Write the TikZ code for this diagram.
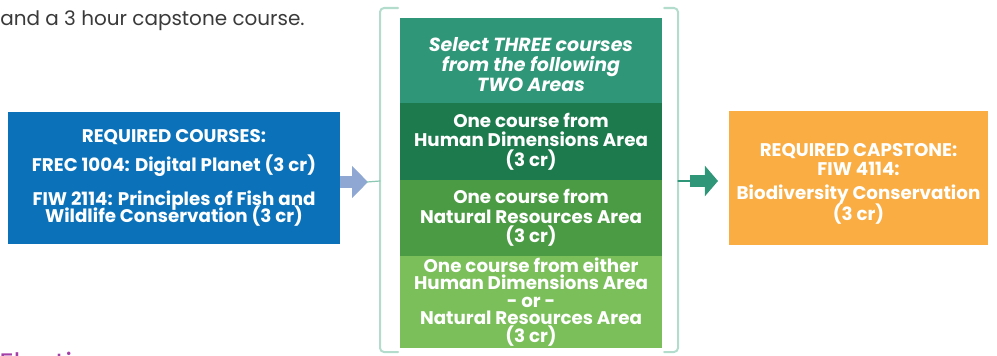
\documentclass[tikz,border=0pt]{standalone}
\usepackage{fontspec}
\setmainfont{Poppins}
\usetikzlibrary{arrows.meta}

\definecolor{bleuReq}{HTML}{0B72BA}
\definecolor{flecheBleue}{HTML}{8EA7D3}
\definecolor{vertSelect}{HTML}{2F9677}
\definecolor{vertHumain}{HTML}{1C7A4C}
\definecolor{vertNature}{HTML}{4B9B44}
\definecolor{vertClair}{HTML}{7BBF5A}
\definecolor{orangeCap}{HTML}{F9AD43}
\definecolor{accolade}{HTML}{B3DCCD}
\definecolor{texteGris}{HTML}{3A3A3A}
\definecolor{violet}{HTML}{A53FA8}

% interligne fixe, corps et interligne en arguments
\newcommand{\serre}{\lineskiplimit=-20pt\relax}
\newcommand{\txtboite}[2]{\fontsize{#1}{#2}\selectfont\serre\bfseries}

\tikzset{
  boite/.style={fill=#1, text=white, align=center, inner sep=0pt, font=\txtboite{13}{13.9}},
  colonne/.style={boite=#1, minimum width=6.55cm},
  texteBlanc/.style={text=white, align=center, inner sep=0pt},
  crochet/.style={accolade, line width=0.05cm, rounded corners=0.1cm},
}

\begin{document}
\begin{tikzpicture}[x=0.025cm, y=-0.025cm, line join=round, line cap=round]

    \useasboundingbox (0,0) rectangle (997,355);

    % Texte du haut, et titre coupé en bas
    \node[anchor=base west, inner sep=0pt, text=texteGris, font=\fontsize{14.2}{16}\selectfont] (intro) at (0,25) {and a 3 hour capstone course.};
    \node[anchor=base west, inner sep=0pt, text=violet, font=\fontsize{20}{22}\selectfont] (electifs) at (-1,373) {Electives};

    % Crochets autour de la colonne
    \draw[crochet] (398,8) -- (380,8) -- (380,352) -- (398,352);
    \draw[crochet] (664,8) -- (678,8) -- (678,352) -- (664,352);

    % Fleches
    \coordinate (depart) at (335,182);
    \coordinate (pointe) at (368,182);
    \coordinate (crochetG) at (380,181);
    \draw[flecheBleue, line width=0.28cm, line cap=butt, -{Triangle[length=0.4cm, width=0.78cm]}] (depart) -- (pointe);
    \draw[accolade!70!vertSelect, line width=0.03cm] (367,182) -- (crochetG);

    \coordinate (crochetD) at (678,181);
    \coordinate (amorce) at (690,181);
    \coordinate (cible) at (718,181);
    \draw[vertSelect, line width=0.03cm] (crochetD) -- (amorce);
    \draw[vertSelect, line width=0.3cm, line cap=butt, -{Triangle[length=0.33cm, width=0.75cm]}] (amorce) -- (cible);

    % Cours obligatoires
    \node[boite=bleuReq, minimum width=8.3cm, minimum height=3.3cm, font=\txtboite{13}{12.4}] (requis) at (174,178)
      {REQUIRED COURSES:\\[8.2pt]
       FREC 1004: Digital Planet (3 cr)\\[11.6pt]
       FIW 2114: Principles of Fish and\\
       Wildlife Conservation (3 cr)};

    % Colonne centrale
    \node[colonne=vertSelect, minimum height=2.125cm] (choix) at (531,60.5) {};
    \node[texteBlanc, font=\txtboite{13.5}{14.4}\itshape] (consigne) at ([yshift=-3pt]choix.center)
      {Select THREE courses\\ from the following\\ TWO Areas};
    \node[colonne=vertHumain, minimum height=1.925cm] (humain) at (531,141.5)
      {One course from\\ Human Dimensions Area\\ (3 cr)};
    \node[colonne=vertNature, minimum height=1.9cm] (nature) at (531,218)
      {One course from\\ Natural Resources Area\\ (3 cr)};
    \node[colonne=vertClair, minimum height=2.3cm, font=\txtboite{13}{12.4}] (libre) at (531,302)
      {One course from either\\ Human Dimensions Area\\ - or -\\ Natural Resources Area\\ (3 cr)};

    % Capstone
    \node[boite=orangeCap, minimum width=6.475cm, minimum height=3.35cm] (capstone) at (858.5,178) {};
    \node[texteBlanc, font=\txtboite{13}{13.5}] (capTexte) at ([yshift=-4.3pt]capstone.center)
      {REQUIRED CAPSTONE:\\ FIW 4114:\\[3.5pt] Biodiversity Conservation\\[1.5pt] (3 cr)};

\end{tikzpicture}
\end{document}
